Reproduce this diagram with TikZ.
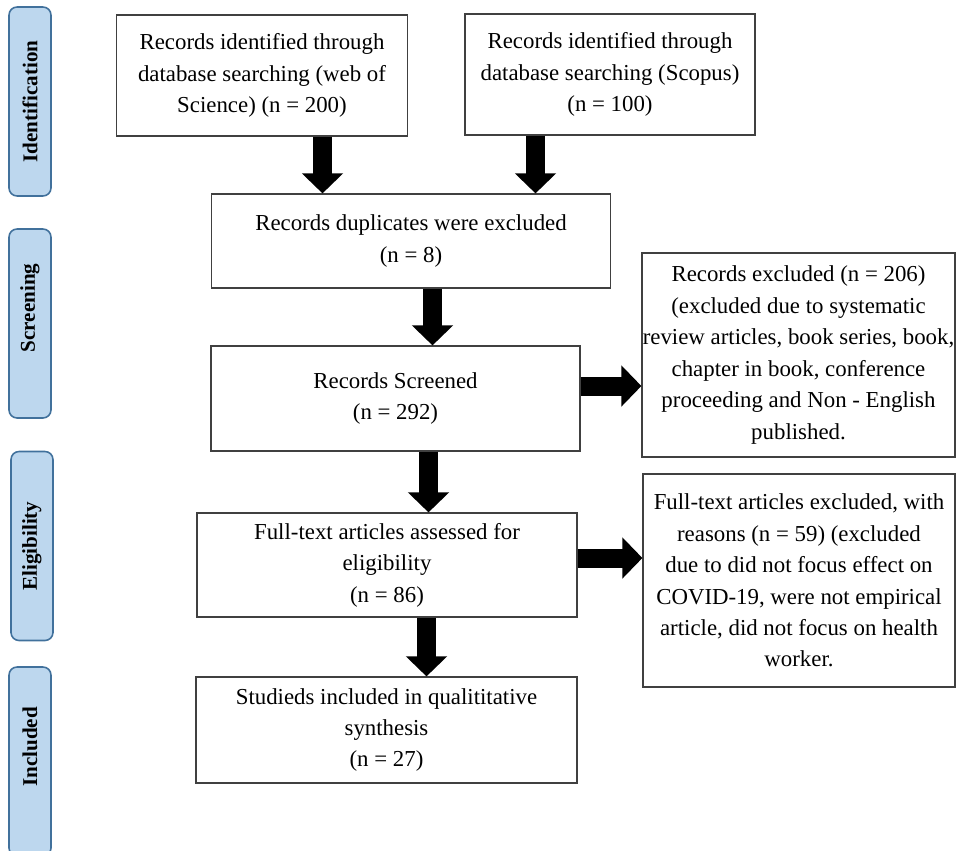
\documentclass[tikz,border=0pt]{standalone}
\usepackage{fontspec}
\setmainfont{Liberation Serif}
\usepackage{tikz}
\usetikzlibrary{arrows.meta}
\definecolor{phfill}{HTML}{BDD7EE}
\definecolor{phline}{HTML}{41719C}
\tikzset{every node/.style={draw,inner sep=0pt}}
\tikzset{bx/.style = {rectangle,draw=black!75,line width=0.7pt,align=center,font=\fontsize{13}{17.9}\selectfont}}
\tikzset{ph/.style = {rectangle,rounded corners=0.16cm,fill=phfill,draw=phline,line width=0.9pt,minimum width=0.84cm,minimum height=3.78cm}}
\tikzset{pt/.style = {draw=none,rotate=90,font=\fontsize{12}{14}\selectfont\bfseries}}
\tikzset{ar/.style = {line width=0.38cm,-{Triangle[length=0.4cm,width=0.8cm]}}}

\begin{document}
\begin{tikzpicture}[x=0.02cm,y=-0.02cm]
      \clip (0,0) rectangle (957,850);

      \node[bx,minimum width=5.82cm,minimum height=2.42cm] (1) at (262,75.5) {Records identified through\\database searching (web of\\Science) (n = 200)};
      \node[bx,minimum width=5.8cm,minimum height=2.42cm] (2) at (610,74.5) {Records identified through\\database searching (Scopus)\\(n = 100)};
      \node[bx,minimum width=7.98cm,minimum height=1.88cm] (3) at (411,241) {Records duplicates were excluded\\(n = 8)};
      \node[bx,minimum width=7.38cm,minimum height=2.1cm] (4) at (395.5,398.5) {Records Screened\\(n = 292)};
      \node[bx,minimum width=6.26cm,minimum height=4.08cm] (5) at (798.5,355) {Records excluded (n = 206)\\(excluded due to systematic\\review articles, book series, book,\\chapter in book, conference\\proceeding and Non - English\\published.};
      \node[bx,minimum width=7.6cm,minimum height=2.08cm] (6) at (387,565) {Full-text articles assessed for\\eligibility\\(n = 86)};
      \node[bx,minimum width=6.24cm,minimum height=4.26cm] (7) at (799,580.5) {Full-text articles excluded, with\\reasons (n = 59) (excluded\\due to did not focus effect on\\COVID-19, were not empirical\\article, did not focus on health\\worker.};
      \node[bx,minimum width=7.62cm,minimum height=2.12cm] (8) at (386.5,730) {Studieds included in qualititative\\synthesis\\(n = 27)};

 % phases down the left side
 \foreach \n/\x/\y/\t/\s in {p1/30/101.5/101.5/Identification,p2/30/323.5/308/Screening,p3/32/546/546/Eligibility,p4/30/761.5/747/Included}{
   \node[ph] (\n) at (\x,\y) {};
   \node[pt] (\n t) at (\x,\t) {\s};
 }

      \coordinate (c1) at (322.5,0);
      \coordinate (c2) at (535.5,0);
      \coordinate (c3) at (432.5,0);
      \coordinate (c4) at (428.5,0);
      \coordinate (c5) at (426.5,0);
      \coordinate (r1) at (0,386);
      \coordinate (r2) at (0,558);

 \foreach \a/\b/\c in {1/3/c1,2/3/c2,3/4/c3,4/6/c4,6/8/c5}
   \draw[ar] (\a.south -| \c) -- (\b.north -| \c);

 \foreach \a/\b/\c in {4/5/r1,6/7/r2}
   \draw[ar] (\a.east |- \c) -- (\b.west |- \c);

    \end{tikzpicture}
\end{document}
